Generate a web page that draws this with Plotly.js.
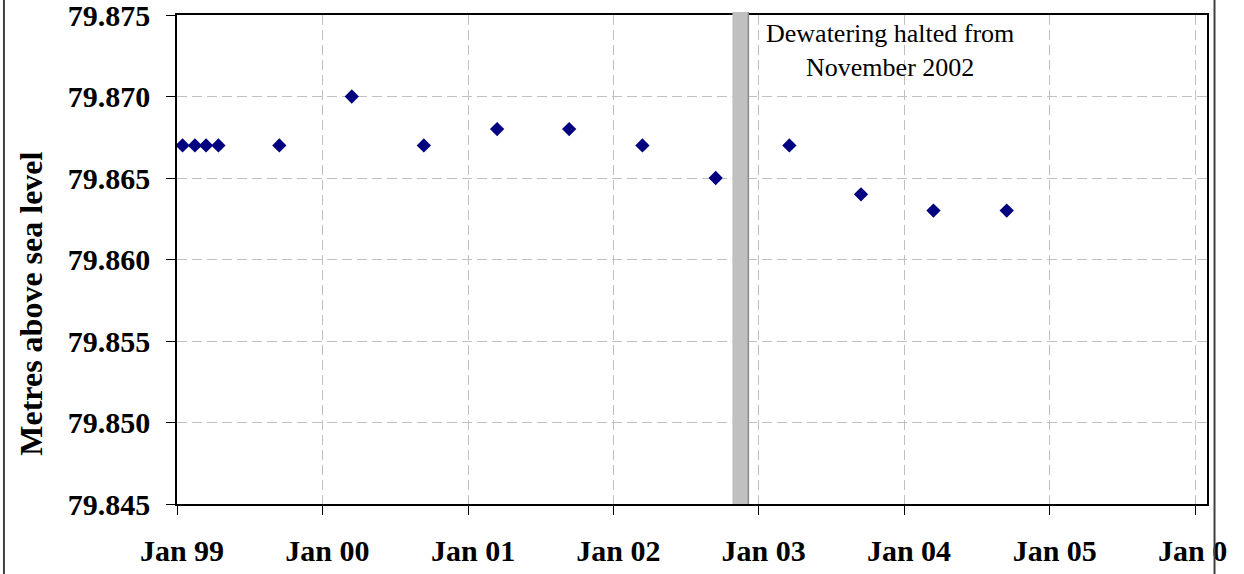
<!DOCTYPE html>
<html>
<head>
<meta charset="utf-8">
<script src="https://cdn.plot.ly/plotly-3.0.1.min.js"></script>
<style>html,body{margin:0;padding:0;background:#fff;}#chart{width:1244px;height:574px;}</style>
</head>
<body>
<div id="chart"></div>
<script>
// Sampling dates and water levels (metres above sea level)
const sampleDates = ['1999-01-15','1999-02-15','1999-03-15','1999-04-15','1999-09-15',
  '2000-03-15','2000-09-12','2001-03-15','2001-09-12','2002-03-15','2002-09-15',
  '2003-03-19','2003-09-15','2004-03-15','2004-09-15'];
const levels = [79.867,79.867,79.867,79.867,79.867,
  79.870,79.867,79.868,79.868,79.867,79.865,
  79.867,79.864,79.863,79.863];
const haltStart = '2002-10-27';
const haltEnd = '2002-12-06';
const noteText = 'Dewatering halted from<br>November 2002';
const yTitle = 'Metres above sea level';

const serif = '"Liberation Serif", "Times New Roman", serif';

const trace = {
  x: sampleDates, y: levels, type: 'scatter', mode: 'markers',
  marker: {symbol: 'diamond', size: 11, color: '#000080'},
  hoverinfo: 'x+y'
};

const layout = {
  width: 1244, height: 574,
  margin: {l: 177, r: 37, t: 15, b: 70, pad: 0},
  paper_bgcolor: '#fff', plot_bgcolor: '#fff',
  showlegend: false,
  xaxis: {
    type: 'date',
    range: ['1999-01-01', '2006-01-31'],
    tick0: '1999-01-01', dtick: 'M12', tickformat: '%b %y',
    ticks: 'outside', ticklen: 9, tickcolor: '#000', tickwidth: 1,
    ticklabelstandoff: 10, ticklabelshift: 5, ticklabeloverflow: 'allow',
    showgrid: true, gridcolor: '#c0c0c0', griddash: '10px,5px', gridwidth: 1,
    showline: true, linecolor: '#000', linewidth: 1.5, mirror: true,
    zeroline: false,
    tickfont: {family: serif, size: 30, color: '#000', weight: 'bold'}
  },
  yaxis: {
    range: [79.845, 79.875], dtick: 0.005, tick0: 79.845, tickformat: '.3f',
    ticks: 'outside', ticklen: 9, tickcolor: '#000', tickwidth: 1,
    ticklabelstandoff: 10, ticklabeloverflow: 'allow',
    showgrid: true, gridcolor: '#c0c0c0', griddash: '10px,5px', gridwidth: 1,
    showline: true, linecolor: '#000', linewidth: 1.5, mirror: true,
    zeroline: false,
    tickfont: {family: serif, size: 30, color: '#000', weight: 'bold'}
  },
  shapes: [
    {type: 'rect', xref: 'x', yref: 'paper', x0: haltStart, x1: haltEnd, y0: 0, y1: 1.006,
     fillcolor: '#c0c0c0', line: {width: 0}, layer: 'above'},
    {type: 'line', xref: 'x', yref: 'paper', x0: haltEnd, x1: haltEnd, y0: 0, y1: 1.006,
     line: {color: '#8a8a8a', width: 1.5}, layer: 'above'},
    {type: 'rect', xref: 'paper', yref: 'paper', x0: 1.0204, x1: 1.05, y0: -0.15, y1: -0.02,
     fillcolor: '#fff', line: {width: 0}, layer: 'above'},
    {type: 'line', xref: 'paper', yref: 'paper', x0: -0.168, x1: -0.168, y0: -0.15, y1: 1.04,
     line: {color: '#404040', width: 2}, layer: 'above'},
    {type: 'line', xref: 'paper', yref: 'paper', x0: 1.0073, x1: 1.0073, y0: -0.15, y1: 1.04,
     line: {color: '#404040', width: 2}, layer: 'above'}
  ],
  annotations: [
    {text: noteText, xref: 'paper', yref: 'paper', x: 0.692, y: 0.928,
     xanchor: 'center', yanchor: 'middle', showarrow: false, align: 'center',
     font: {family: serif, size: 26, color: '#000'}},
    {text: yTitle, xref: 'paper', yref: 'paper', x: -0.1417, y: 0.4096,
     xanchor: 'center', yanchor: 'middle', showarrow: false, textangle: -90,
     font: {family: serif, size: 32, color: '#000', weight: 'bold'}}
  ]
};

Plotly.newPlot('chart', [trace], layout, {displayModeBar: false});
</script>
</body>
</html>
